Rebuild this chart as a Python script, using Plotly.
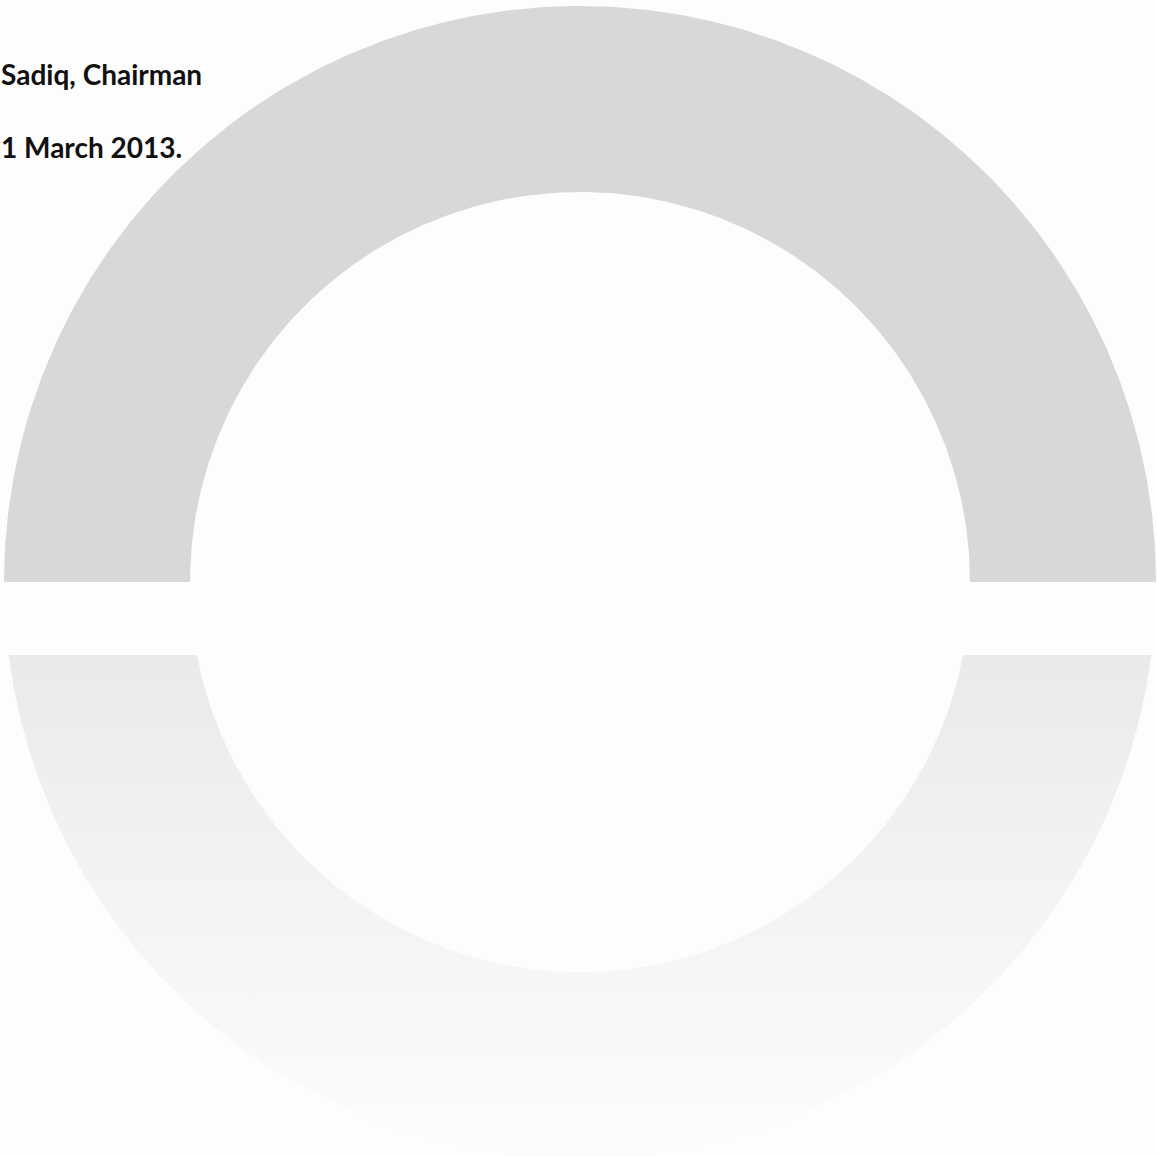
import numpy as np
import plotly.graph_objects as go

# Ring geometry (pixel space of the 1157x1156 canvas)
W, H = 1157, 1156
ring_center = [580, 582]
ring_radii = [576, 390]          # outer, inner
reflection_start = [655]         # top edge of the faded reflection
text_lines = ["Sadiq, Chairman", "1 March 2013."]
text_x = [0, 0]
text_y = [74, 146.5]

ring_color = "#d7d8da"
reflect_scale = [[0.0, "#eaeaea"], [0.45, "#f3f3f3"], [0.85, "#fafafa"], [1.0, "#fdfdfd"]]
bg = "#fdfdfd"

cx, cy = ring_center
R, r = ring_radii
y0 = reflection_start[0]

# upper half ring
t = np.linspace(np.pi, 2 * np.pi, 400)
xo = cx + R * np.cos(t)
yo = cy + R * np.sin(t)
ti = t[::-1]
xi = cx + r * np.cos(ti)
yi = cy + r * np.sin(ti)
top_x = np.concatenate([xo, xi, xo[:1]])
top_y = np.concatenate([yo, yi, yo[:1]])

# lower faded reflection
po = np.arcsin((y0 - cy) / R)
pi_ = np.arcsin((y0 - cy) / r)
to = np.linspace(np.pi - po, po, 400)
tin = np.linspace(pi_, np.pi - pi_, 400)
bx = np.concatenate([cx + R * np.cos(to), cx + r * np.cos(tin)])
by = np.concatenate([cy + R * np.sin(to), cy + r * np.sin(tin)])
bx = np.append(bx, bx[0])
by = np.append(by, by[0])

fig = go.Figure()
fig.add_trace(go.Scatter(x=top_x, y=top_y, mode="lines", fill="toself",
                         fillcolor=ring_color, line=dict(width=0, color=ring_color),
                         hoverinfo="skip", showlegend=False))
fig.add_trace(go.Scatter(x=bx, y=by, mode="lines", fill="toself",
                         fillgradient=dict(type="vertical", colorscale=reflect_scale,
                                           start=y0, stop=H),
                         line=dict(width=0, color="rgba(0,0,0,0)"),
                         hoverinfo="skip", showlegend=False))

for txt, x, y in zip(text_lines, text_x, text_y):
    fig.add_annotation(x=x / W, y=1 - y / H, xref="paper", yref="paper", text=txt,
                       showarrow=False, xanchor="left", yanchor="middle", borderpad=0,
                       font=dict(family="Lato, Liberation Sans", size=28,
                                 color="#111111", weight="bold"))

fig.update_layout(width=W, height=H, margin=dict(l=0, r=0, t=0, b=0),
                  paper_bgcolor=bg, plot_bgcolor=bg,
                  xaxis=dict(range=[0, W], visible=False, fixedrange=True),
                  yaxis=dict(range=[H, 0], visible=False, fixedrange=True))
fig.write_html("out.html", config={"displayModeBar": False, "staticPlot": True},
               post_script="document.body.style.margin='0';document.body.style.background='%s';" % bg)
